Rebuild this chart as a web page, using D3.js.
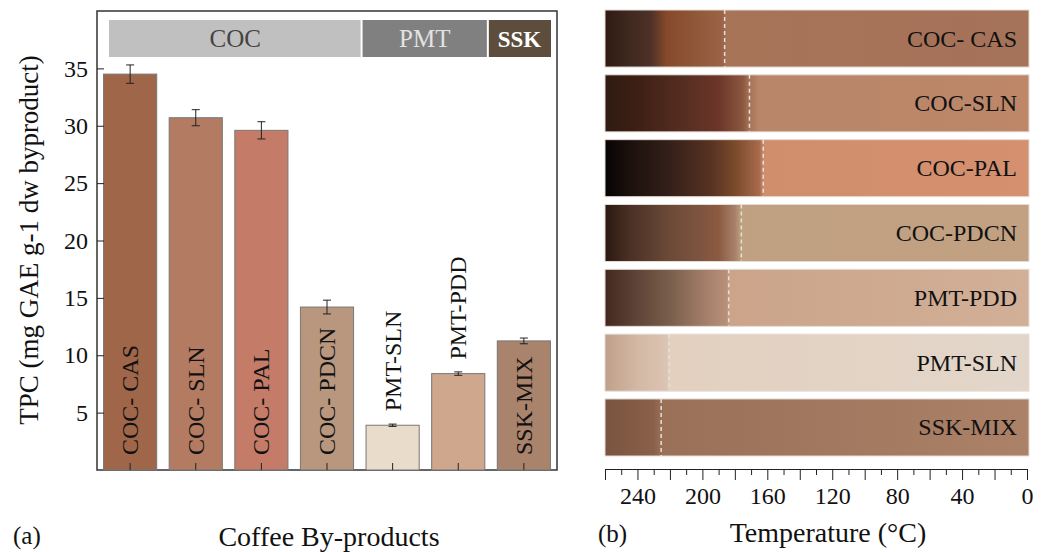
<!DOCTYPE html>
<html>
<head lang="en">
    <meta charset="UTF-8">
    <title>TPC and thermal colour</title>
    <script src="https://cdn.jsdelivr.net/npm/d3@7"></script>
    <style>
        body{margin:0;background:#fff;}
        text{font-family:"Liberation Serif","DejaVu Serif",serif;fill:#111;}
        .axis path,.axis line{stroke:#222;}
    </style>
</head>
<body>
<svg id="chart" width="1047" height="552"></svg>
</body>
</html>
<script>
    // panel (a): TPC per by-product
    var categories=['COC- CAS','COC- SLN','COC- PAL','COC- PDCN','PMT-SLN','PMT-PDD','SSK-MIX'];
    var tpc=[34.5,30.7,29.6,14.2,3.9,8.4,11.25];
    var tpcErr=[0.8,0.7,0.75,0.6,0.1,0.15,0.25];
    var barColors=['#a0664a','#b37b61','#c47b68','#b8977e','#e9dccb','#cea78d','#a9836b'];
    var groupNames=['COC','PMT','SSK'];
    var groupCounts=[4,2,1];
    var groupFills=['#c0c0c0','#808080','#5c4d3c'];
    var groupText=['#444','#e2e2e2','#fff'];
    var yTicks=[5,10,15,20,25,30,35];

    // panel (b): colour of each sample against temperature
    var samples=['COC- CAS','COC-SLN','COC-PAL','COC-PDCN','PMT-PDD','PMT-SLN','SSK-MIX'];
    var markTemp=[186.3,171,162.5,176,183.8,220.5,225.4];
    var stopTemps=[
        [260,245,232,222,200,187,186,0],
        [260,240,210,190,175,171,165,0],
        [260,245,220,195,180,165,162,0],
        [260,245,220,200,190,180,176,0],
        [260,240,220,200,185,183,0],
        [260,240,222,220,0],
        [260,230,225,0]
    ];
    var stopColors=[
        ['#2f1b12','#3f2920','#4d3127','#86492b','#935a3c','#9c6448','#a87458','#a5725a'],
        ['#2e1b12','#3e1f14','#572f22','#6c3528','#8c5840','#a77358','#b9866a','#bd8768'],
        ['#050303','#1c100c','#342019','#573222','#7a4a2a','#a86a4c','#d08e6c','#d5906f'],
        ['#2a1810','#4a3024','#6c4a38','#7f5540','#8c5a40','#a8806a','#bfa080','#c2a183'],
        ['#44281f','#5f4538','#7a5e4c','#a07c68','#b89078','#cba48a','#d2af97'],
        ['#c0a08a','#d2b8a5','#dcc4b2','#e3d0bf','#e2d6ca'],
        ['#7a5440','#8a6048','#9a7058','#ab8168']
    ];

    var svg=d3.select('#chart');

    // ---------- (a) ----------
    var a={left:97,top:11,right:557,bottom:470};
    var x=d3.scaleBand().domain(categories).range([a.left,a.right]).paddingInner(0.19).paddingOuter(0.1);
    var y=d3.scaleLinear().domain([0,40]).range([a.bottom,a.top]);

    var gA=svg.append('g');
    gA.append('rect')
            .attr('x',a.left).attr('y',a.top)
            .attr('width',a.right-a.left).attr('height',a.bottom-a.top)
            .attr('fill','none').attr('stroke','#333').attr('stroke-width',1.5);

    // group header strip
    var hx=d3.scaleLinear().domain([0,d3.sum(groupCounts)]).range([109,551]);
    var cum=0;
    groupNames.forEach(function(g,i){
        var x0=hx(cum), x1=hx(cum+groupCounts[i]);
        cum+=groupCounts[i];
        gA.append('rect')
                .attr('x',x0+(i?1:0)).attr('y',20)
                .attr('width',x1-x0-(i?1:0)-(i<2?1:0)).attr('height',37)
                .attr('fill',groupFills[i]);
        gA.append('text')
                .attr('x',(x0+x1)/2).attr('y',47)
                .attr('text-anchor','middle')
                .style('font-size',i==2?'23px':'25px')
                .style('font-weight',i==2?'bold':'normal')
                .style('fill',groupText[i])
                .text(g);
    });

    gA.selectAll('.bar')
            .data(categories)
            .enter()
            .append('rect')
            .attr('class','bar')
            .attr('x',function(d){return x(d)})
            .attr('y',function(d,i){return y(tpc[i])})
            .attr('width',x.bandwidth())
            .attr('height',function(d,i){return y(0)-y(tpc[i])})
            .attr('fill',function(d,i){return barColors[i]})
            .attr('stroke','#777')
            .attr('stroke-width',1);

    // error bars
    var eb=gA.selectAll('.err').data(categories).enter().append('g').attr('class','err')
            .attr('stroke','#222').attr('stroke-width',1);
    eb.append('line')
            .attr('x1',function(d){return x(d)+x.bandwidth()/2})
            .attr('x2',function(d){return x(d)+x.bandwidth()/2})
            .attr('y1',function(d,i){return y(tpc[i]-tpcErr[i])})
            .attr('y2',function(d,i){return y(tpc[i]+tpcErr[i])});
    [-1,1].forEach(function(s){
        eb.append('line')
                .attr('x1',function(d){return x(d)+x.bandwidth()/2-4})
                .attr('x2',function(d){return x(d)+x.bandwidth()/2+4})
                .attr('y1',function(d,i){return y(tpc[i]+s*tpcErr[i])})
                .attr('y2',function(d,i){return y(tpc[i]+s*tpcErr[i])});
    });

    // bar labels: inside the bar when they fit, above it otherwise
    gA.selectAll('.blab').data(categories).enter().append('text')
            .attr('class','blab')
            .style('font-size','24px')
            .text(function(d){return d})
            .attr('transform',function(d,i){
                var len=this.getComputedTextLength();
                var cx=x(d)+x.bandwidth()/2+8;
                var h=y(0)-y(tpc[i]);
                var yy=h>len+25?y(0)-15:y(tpc[i])-14;
                return 'translate('+cx+','+yy+') rotate(-90)';
            });

    gA.append('g').attr('class','axis')
            .attr('transform','translate('+a.left+',0)')
            .call(d3.axisLeft(y).tickValues(yTicks).tickSize(-7).tickPadding(9))
            .call(function(g){
                g.select('.domain').remove();
                g.selectAll('text').style('font-size','24px').style('font-family','"Liberation Serif",serif');
            });
    gA.append('g').attr('class','axis')
            .attr('transform','translate(0,'+a.bottom+')')
            .call(d3.axisBottom(x).tickSize(-7).tickFormat(''))
            .call(function(g){g.select('.domain').remove();});

    gA.append('text')
            .attr('transform','translate(38,'+240+') rotate(-90)')
            .attr('text-anchor','middle')
            .style('font-size','27px')
            .text('TPC (mg GAE g-1 dw byproduct)');
    gA.append('text').attr('x',329).attr('y',546).attr('text-anchor','middle')
            .style('font-size','28px').text('Coffee By-products');
    gA.append('text').attr('x',13).attr('y',544).style('font-size','25px').text('(a)');

    // ---------- (b) ----------
    var t=d3.scaleLinear().domain([260,0]).range([605,1027]);
    var sy=d3.scaleBand().domain(samples).range([10,456]).paddingInner(0.12);
    var gB=svg.append('g');
    var defs=svg.append('defs');

    samples.forEach(function(s,i){
        var grad=defs.append('linearGradient')
                .attr('id','grad'+i)
                .attr('gradientUnits','userSpaceOnUse')
                .attr('x1',t(260)).attr('x2',t(0)).attr('y1',0).attr('y2',0);
        stopTemps[i].forEach(function(tt,j){
            grad.append('stop')
                    .attr('offset',(260-tt)/260)
                    .attr('stop-color',stopColors[i][j]);
        });
    });

    gB.selectAll('.strip').data(samples).enter().append('rect')
            .attr('class','strip')
            .attr('x',t(260))
            .attr('y',function(d){return sy(d)})
            .attr('width',t(0)-t(260)+2)
            .attr('height',sy.bandwidth())
            .attr('fill',function(d,i){return 'url(#grad'+i+')'})
            .attr('stroke','#e4dcd6')
            .attr('stroke-width',1);

    gB.selectAll('.mark').data(samples).enter().append('line')
            .attr('class','mark')
            .attr('x1',function(d,i){return t(markTemp[i])})
            .attr('x2',function(d,i){return t(markTemp[i])})
            .attr('y1',function(d){return sy(d)})
            .attr('y2',function(d){return sy(d)+sy.bandwidth()})
            .attr('stroke','#e6e0dc')
            .attr('stroke-width',1.5)
            .attr('stroke-dasharray','4,3');

    gB.selectAll('.slab').data(samples).enter().append('text')
            .attr('class','slab')
            .attr('x',1017)
            .attr('y',function(d){return sy(d)+sy.bandwidth()/2+8})
            .attr('text-anchor','end')
            .style('font-size','24px')
            .text(function(d){return d});

    var axisY=469;
    gB.append('g').attr('class','axis')
            .attr('transform','translate(0,'+axisY+')')
            .call(d3.axisBottom(t).tickValues(d3.range(10,260,20)).tickSize(6).tickSizeOuter(0).tickFormat(''))
            .call(function(g){g.select('.domain').remove();});
    gB.append('g').attr('class','axis')
            .attr('transform','translate(0,'+axisY+')')
            .call(d3.axisBottom(t).tickValues(d3.range(0,261,20)).tickSize(11).tickSizeOuter(0).tickPadding(7)
                    .tickFormat(function(d){return d%40==0?d:''}))
            .call(function(g){
                g.selectAll('text').style('font-size','24px').style('font-family','"Liberation Serif",serif');
            });
    gB.append('text').attr('x',828).attr('y',542).attr('text-anchor','middle')
            .style('font-size','28px').text('Temperature (°C)');
    gB.append('text').attr('x',598).attr('y',542).style('font-size','25px').text('(b)');
</script>
